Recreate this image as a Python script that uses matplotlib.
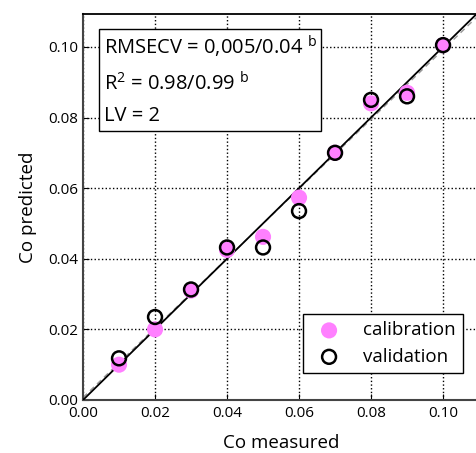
import matplotlib.pyplot as plt
import numpy as np

plt.rcParams['font.family'] = ['Open Sans', 'DejaVu Sans']

# Datos
measured = [0.01, 0.02, 0.03, 0.04, 0.05, 0.06, 0.07, 0.08, 0.09, 0.10]
pred_cal = [0.0100, 0.0200, 0.0310, 0.0425, 0.0462, 0.0573, 0.0700, 0.0840, 0.0870, 0.1005]
pred_val = [0.0118, 0.0235, 0.0313, 0.0432, 0.0432, 0.0535, 0.0700, 0.0850, 0.0860, 0.1005]
ticks = [0.00, 0.02, 0.04, 0.06, 0.08, 0.10]

fig = plt.figure(figsize=(4.76, 4.53), dpi=100)
ax = fig.add_axes([0.1744, 0.117, 0.832, 0.852])

# Líneas: ideal y ajuste
xl = np.array([0.0, 0.11])
ax.plot(xl, 0.0007 + 0.985 * xl, color='#999999', lw=1, ls=(0, (4, 3)), zorder=2)
ax.plot(xl, xl, color='black', lw=1.3, zorder=3)

ax.scatter(measured, pred_cal, s=135, color='#ff80ff', edgecolor='none',
           label='calibration', zorder=4)
ax.scatter(measured, pred_val, s=100, facecolor='none', edgecolor='black',
           lw=1.8, label='validation', zorder=5)

ax.set_xlim(0, 0.11)
ax.set_ylim(0, 0.1093)
ax.set_xticks(ticks)
ax.set_yticks(ticks)
ax.set_xticklabels([f'{t:.2f}' for t in ticks], fontsize=11)
ax.set_yticklabels([f'{t:.2f}' for t in ticks], fontsize=11)
ax.tick_params(direction='in', length=4, color='black')
ax.tick_params(axis='x', pad=4.5)
ax.tick_params(axis='y', pad=3.5)
ax.grid(True, color='black', ls=':', lw=1)
ax.set_axisbelow(True)
for s in ['left', 'bottom']:
    ax.spines[s].set_color('#444444')
    ax.spines[s].set_linewidth(1.5)
ax.spines['top'].set_linewidth(1.3)

ax.set_xlabel('Co measured', fontsize=13.5, labelpad=9)
ax.set_ylabel('Co predicted', fontsize=13.5, labelpad=8)

ax.text(0.0058, 0.1038,
        'RMSECV = 0,005/0.04 $^{\\mathregular{b}}$\n'
        'R$^{\\mathregular{2}}$ = 0.98/0.99 $^{\\mathregular{b}}$\nLV = 2',
        fontsize=14.5, va='top', ha='left', linespacing=1.7,
        bbox=dict(boxstyle='square,pad=0.22', facecolor='white', edgecolor='black', lw=1),
        zorder=6)

leg = ax.legend(loc='lower right', bbox_to_anchor=(0.983, 0.045), fontsize=13.5,
                frameon=True, fancybox=False, edgecolor='black', framealpha=1,
                handletextpad=0.8, borderpad=0.4, labelspacing=0.45)
leg.get_frame().set_linewidth(1)

fig.savefig('out.png', dpi=100)
